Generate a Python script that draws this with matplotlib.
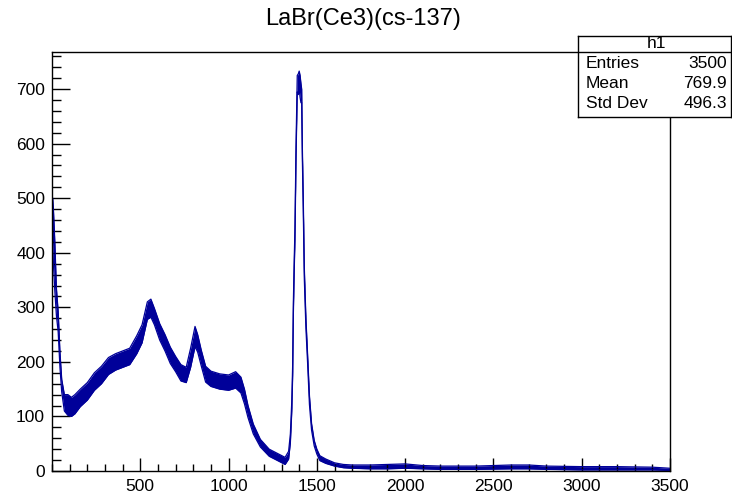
import numpy as np
import matplotlib.pyplot as plt

plt.rcParams['font.family'] = ['Liberation Sans', 'DejaVu Sans']

# channel positions and the low / high edge of the noisy trace
channel = [0, 4, 8, 16, 25, 35, 45, 55, 70, 90, 110, 130, 160, 200, 240, 280,
           320, 360, 400, 440, 480, 510, 540, 560, 580, 610, 640, 670, 700, 730,
           760, 785, 810, 825, 845, 870, 900, 950, 1000, 1040, 1070, 1090, 1110,
           1140, 1180, 1230, 1290, 1320, 1340, 1350, 1358, 1363, 1367, 1372,
           1376, 1382, 1389, 1395, 1400, 1405, 1410, 1414, 1418, 1423, 1429,
           1438, 1448, 1458, 1470, 1485, 1500, 1517, 1550, 1600, 1650, 1700,
           1800, 1900, 2000, 2100, 2200, 2400, 2600, 2700, 2800, 3000, 3200,
           3400, 3500]
low = [380, 420, 380, 330, 285, 255, 190, 145, 110, 102, 100, 105, 118, 130,
       148, 160, 177, 185, 190, 195, 215, 235, 278, 282, 268, 240, 220, 197,
       182, 165, 162, 190, 228, 218, 193, 163, 155, 150, 148, 152, 143, 123,
       98, 68, 44, 27, 17, 12, 22, 52, 110, 175, 290, 370, 425, 575, 695,
       690, 700, 685, 675, 675, 570, 480, 352, 262, 195, 122, 75, 46, 31, 19,
       14, 9, 6, 5, 4, 4, 5, 4, 3, 3, 4, 4, 3, 2, 2, 2, 1]
high = [500, 500, 480, 420, 335, 292, 218, 168, 140, 140, 135, 140, 150, 162,
        180, 192, 208, 215, 220, 225, 248, 268, 310, 315, 298, 270, 250, 227,
        210, 195, 190, 225, 265, 250, 222, 192, 183, 178, 176, 182, 172, 150,
        120, 86, 58, 40, 30, 25, 36, 68, 128, 195, 310, 390, 445, 595, 725,
        728, 733, 725, 710, 700, 590, 500, 372, 280, 210, 138, 87, 56, 40,
        28, 22, 15, 12, 11, 11, 12, 13, 10, 9, 9, 11, 11, 9, 8, 8, 7, 5]

entries = 3500
mean = 769.9
std_dev = 496.3

line_col = '#000099'

fig = plt.figure(figsize=(7.32, 4.95), dpi=100)
ax = fig.add_axes([52 / 732, 1 - 471 / 495, 618 / 732, 419 / 495])

ax.fill_between(channel, low, high, color=line_col, linewidth=0)
ax.plot(channel, low, color=line_col, lw=0.9)
ax.plot(channel, high, color=line_col, lw=0.9)

ax.set_xlim(0, 3500)
ax.set_ylim(0, 768)
ax.set_xticks([500, 1000, 1500, 2000, 2500, 3000, 3500])
ax.set_xticks(np.arange(0, 3501, 100), minor=True)
ax.set_yticks(np.arange(0, 701, 100))
ax.set_yticks(np.arange(0, 768, 20), minor=True)
ax.tick_params(axis='both', which='both', direction='in', labelsize=12.5,
               width=1, color='black', top=False, right=False)
ax.tick_params(axis='x', which='major', length=9.5, pad=6)
ax.tick_params(axis='x', which='minor', length=4.8)
ax.tick_params(axis='y', which='major', length=13, pad=5)
ax.tick_params(axis='y', which='minor', length=6.5)
for s in ax.spines.values():
    s.set_linewidth(1)

fig.text(363 / 732, 1 - 19 / 495, 'LaBr(Ce3)(cs-137)', ha='center', va='center',
         fontsize=17)

# statistics box in the ROOT style
box = fig.add_axes([578 / 732, 1 - 117 / 495, 153 / 732, 81 / 495])
box.set_xticks([])
box.set_yticks([])
box.set_xlim(0, 153)
box.set_ylim(81, 0)
for s in box.spines.values():
    s.set_linewidth(1)
box.axhline(15.7, color='black', lw=1)
box.text(79, 7.5, 'h1', ha='center', va='center', fontsize=12.5)
rows = [('Entries', f'{entries}'), ('Mean', f'{mean:.1f}'), ('Std Dev', f'{std_dev:.1f}')]
for i, (name, val) in enumerate(rows):
    y = 28 + i * 19.5
    box.text(8, y, name, ha='left', va='center', fontsize=12.5)
    box.text(149, y, val, ha='right', va='center', fontsize=12.5)

fig.savefig('out.png', dpi=100)
